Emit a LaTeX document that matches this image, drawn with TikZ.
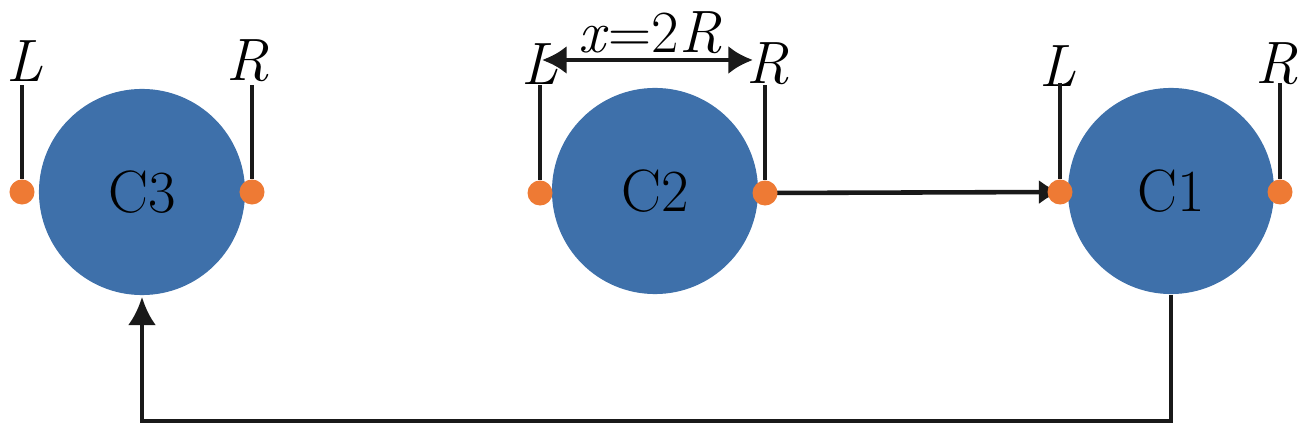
\documentclass[tikz,border=0pt]{standalone}
\usetikzlibrary{arrows.meta}
\definecolor{ballblue}{RGB}{62,112,170}
\definecolor{dotorange}{RGB}{238,122,52}
\pgfdeclarelayer{bg}
\pgfsetlayers{bg,main}
\begin{document}
\begin{tikzpicture}[x=0.01cm,y=-0.01cm,
  ball/.style={circle,fill=ballblue,minimum size=2.06cm,inner sep=0pt,font=\fontsize{17}{19}\selectfont},
  pin/.style={circle,fill=dotorange,minimum size=0.25cm,inner sep=0pt},
  lab/.style={font=\fontsize{17}{19}\selectfont\itshape,inner sep=0pt},
  stem/.style={line width=1.1pt,black!90},
  conn/.style={line width=1.3pt,black!90}]
\useasboundingbox (0,0) rectangle (1307,437);
% balls
\node[ball] (C3) at (142,192) {C3};
\node[ball] (C2) at (655,191) {C2};
\node[ball] (C1) at (1171,191) {C1};
% pins
\node[pin] (C3L) at (22,192) {};
\node[pin] (C3R) at (252,192) {};
\node[pin] (C2L) at (540,193) {};
\node[pin] (C2R) at (765,193) {};
\node[pin] (C1L) at (1060,192) {};
\node[pin] (C1R) at (1280,192) {};
% labels
\node[lab] (L3) at (25,61) {L};
\node[lab] (R3) at (248,61) {R};
\node[lab] (L2) at (540,64) {L};
\node[lab] (R2) at (768,64) {R};
\node[lab] (L1) at (1058,66) {L};
\node[lab] (R1) at (1277,64) {R};
\node[font=\fontsize{17}{19}\selectfont,inner sep=0pt] (dist) at (650,33) {\textit{x}=2\textit{R}};
% stems
\coordinate (t3l) at (22,85); \coordinate (t3r) at (252,85);
\coordinate (t2l) at (540,85); \coordinate (t2r) at (765,85);
\coordinate (t1l) at (1060,83); \coordinate (t1r) at (1280,83);
\draw[stem] (C3L.north) -- (t3l);
\draw[stem] (C3R.north) -- (t3r);
\draw[stem] (C2L.north) -- (t2l);
\draw[stem] (C2R.north) -- (t2r);
\draw[stem] (C1L.north) -- (t1l);
\draw[stem] (C1R.north) -- (t1r);
% distance arrow
\coordinate (dl) at (542,60); \coordinate (dr) at (753,60);
\draw[conn,{Latex[length=7pt,width=8pt]}-{Latex[length=7pt,width=8pt]}] (dl) -- (dr);
% connectors
\begin{pgfonlayer}{bg}
\draw[conn,-{Latex[length=6pt,width=7pt]}] (C2R.center) -- (C1L.center);
\coordinate (corner1) at (1171,421);
\coordinate (corner3) at (142,421);
\coordinate (tip3) at (142,297);
\draw[conn,-{Latex[length=8pt,width=8pt]}] (C1.south) -- (corner1) -- (corner3) -- (tip3);
\end{pgfonlayer}
\end{tikzpicture}
\end{document}
